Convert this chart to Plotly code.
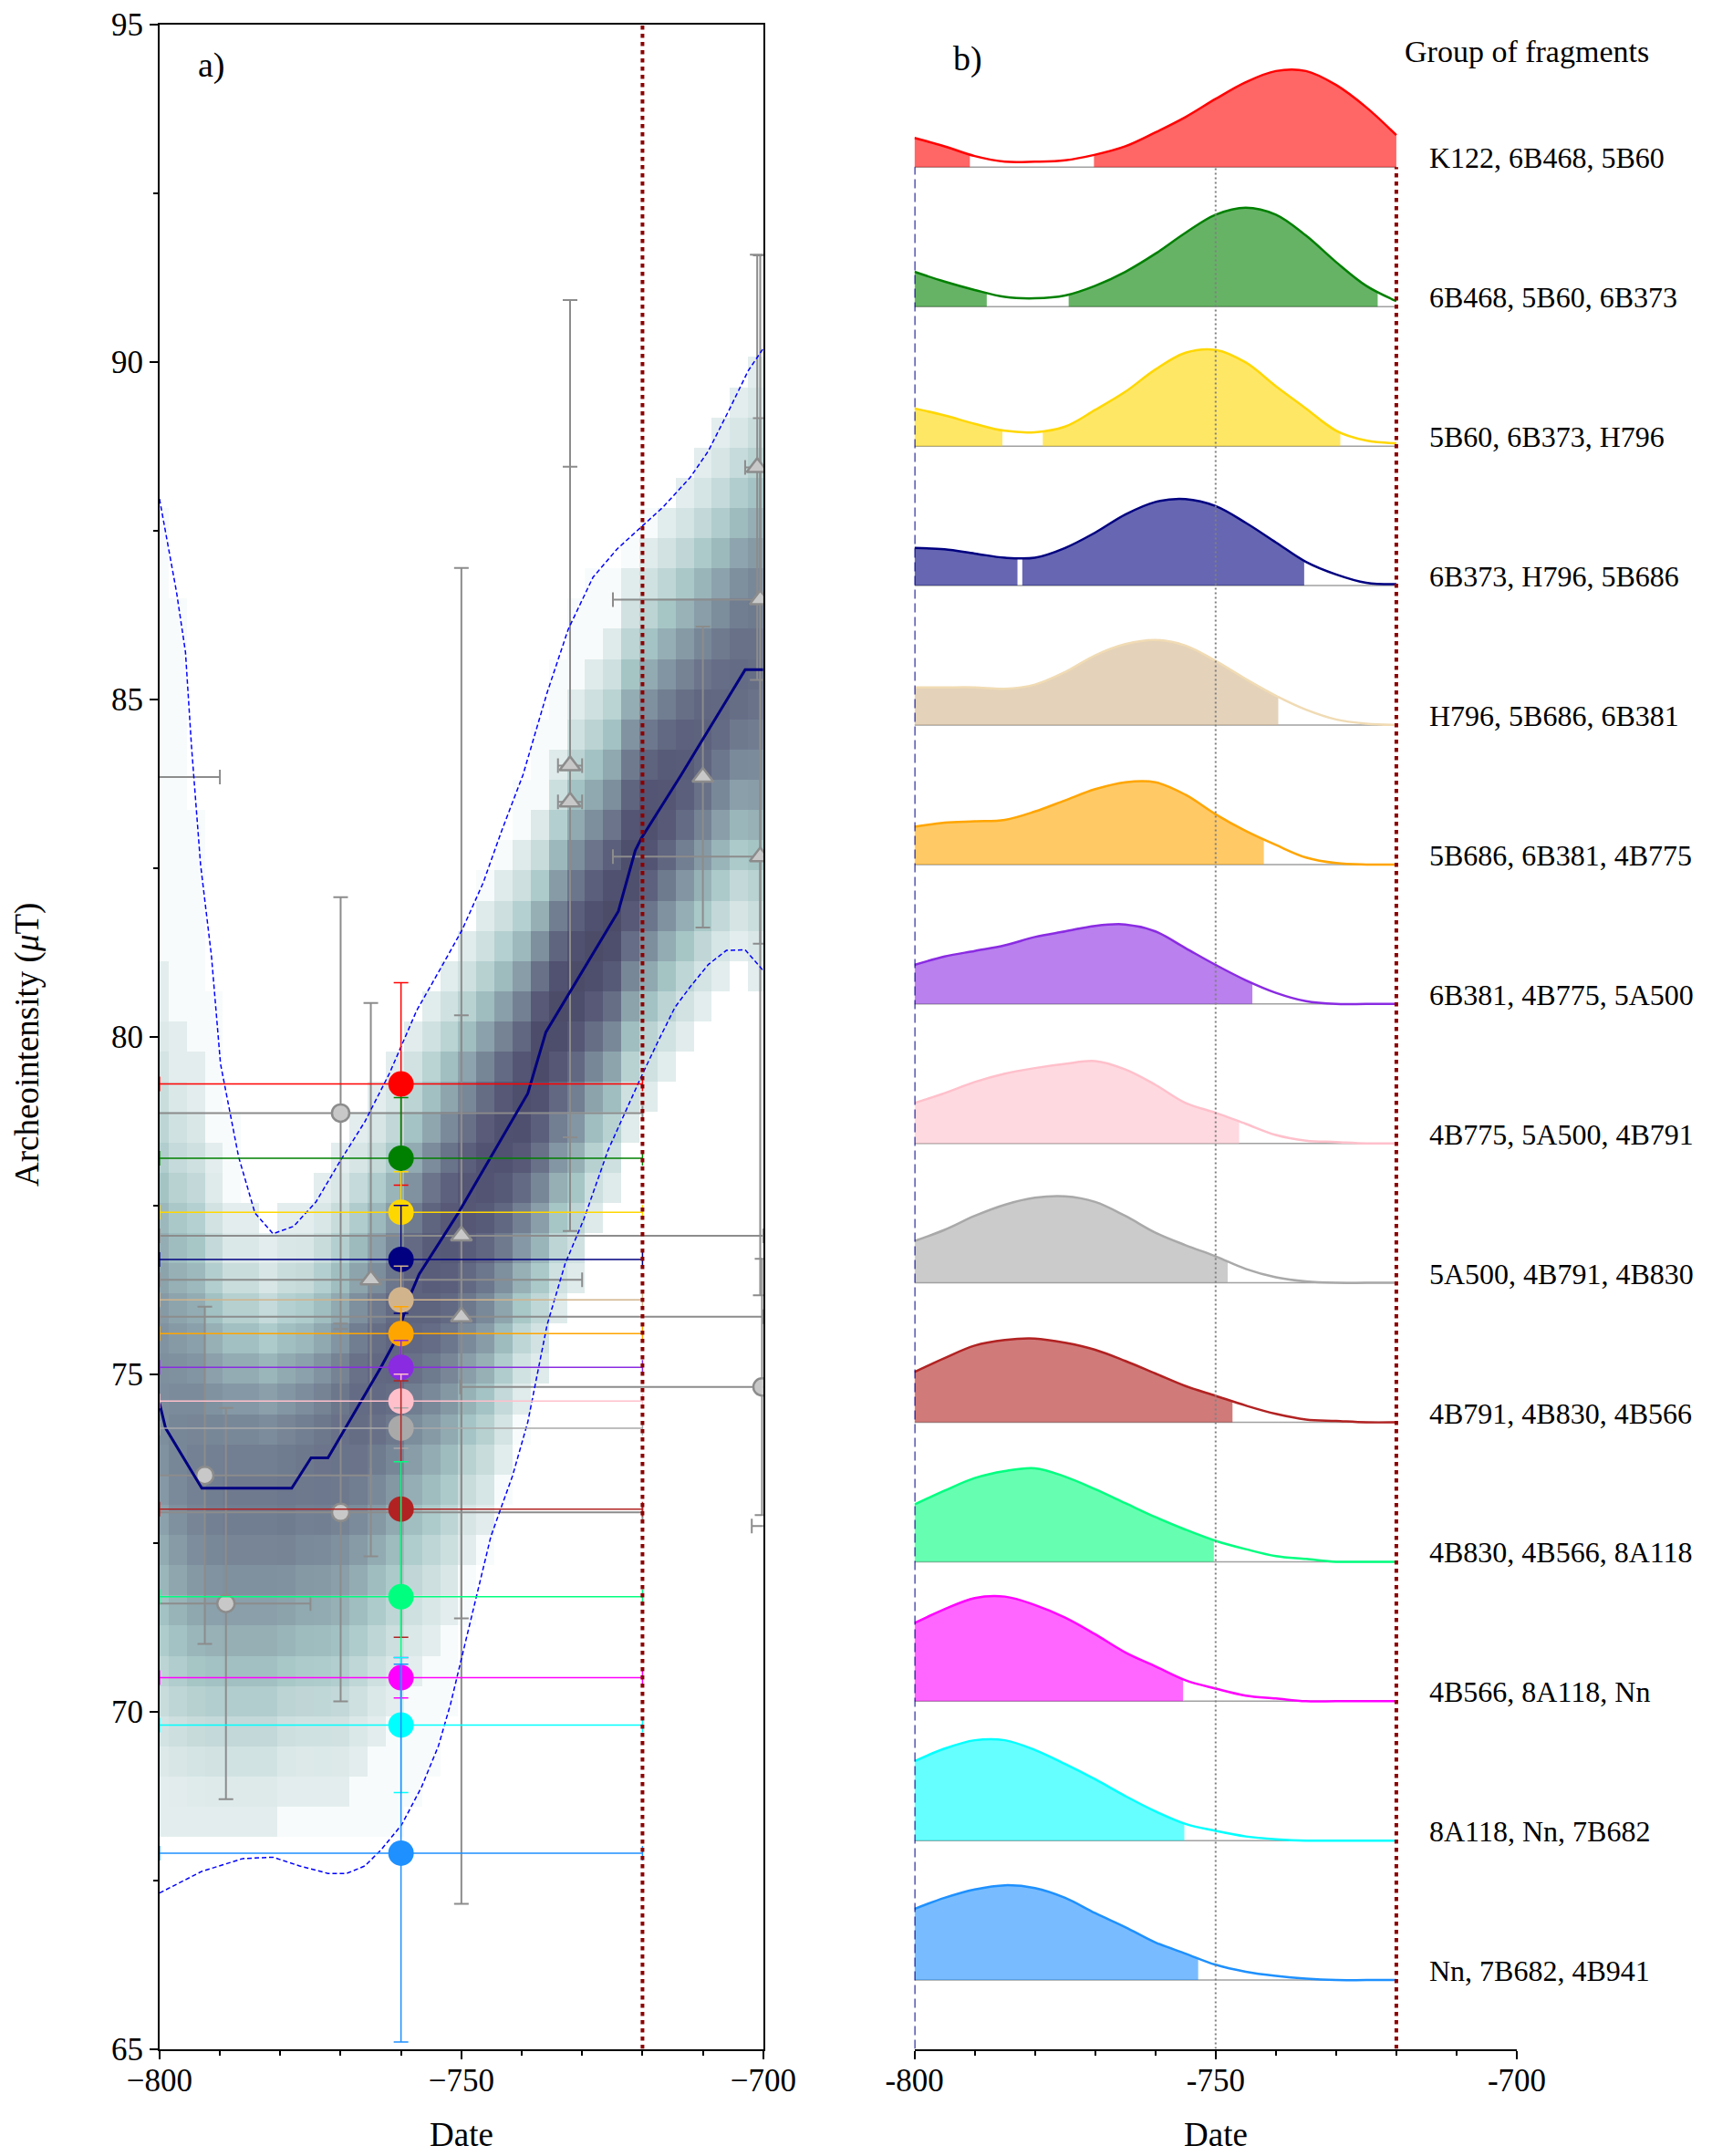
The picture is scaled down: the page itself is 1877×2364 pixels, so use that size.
import numpy as np
import plotly.graph_objects as go

FONT = "Liberation Serif"

# ---------------- Panel a) : archeointensity curve ----------------
# Posterior mean curve (date, µT)
mean_date = [-800, -799, -793, -778.1, -774.9, -772.1, -763.4, -760.6, -758.9, -757.0,
             -750.5, -745.1, -739.0, -736.0, -724.0, -721.2, -720.2, -713.6, -703.0, -700]
mean_int = [74.57, 74.20, 73.31, 73.31, 73.76, 73.76, 75.09, 75.55, 76.08, 76.48,
            77.39, 78.22, 79.16, 80.07, 81.86, 82.76, 82.94, 83.88, 85.44, 85.44]

# Upper / lower envelopes (dashed)
upper_date = [-800, -797.2, -795.7, -794.7, -793.2, -791.4, -789.9, -786.9, -784.2, -781.2,
              -777.8, -774.1, -770.0, -766.0, -761.9, -757.4, -753.4, -749.9, -746.4, -743.3,
              -739.8, -735.8, -732.3, -728.2, -724.2, -720.2, -716.6, -712.1, -709.1, -705.6,
              -702.5, -700.0]
upper_int = [87.97, 86.6, 85.7, 84.3, 82.55, 81.2, 79.6, 78.22, 77.39, 77.08,
             77.19, 77.55, 78.17, 78.74, 79.46, 80.39, 81.02, 81.58, 82.28, 83.06,
             83.88, 85.1, 86.04, 86.81, 87.23, 87.56, 87.85, 88.29, 88.68, 89.3,
             89.87, 90.2]
lower_date = [-800, -793.0, -786.2, -781.2, -776.8, -772.1, -769.0, -766.0, -763.3, -759.9,
              -756.6, -753.8, -751.8, -749.8, -747.1, -745.1, -741.5, -739.0, -737.8, -735.8,
              -732.8, -729.7, -725.7, -720.2, -717.6, -714.6, -712.1, -709.1, -706.1, -703.0,
              -700.0]
lower_int = [67.31, 67.63, 67.82, 67.84, 67.71, 67.60, 67.60, 67.71, 67.95, 68.32,
             68.88, 69.49, 70.11, 70.85, 71.89, 72.6, 73.5, 74.29, 74.83, 75.73,
             76.64, 77.3, 78.32, 79.41, 79.9, 80.44, 80.74, 81.07, 81.28, 81.29,
             80.98]

# Density of the curve ensemble: 3-year columns centred on -800, -797, ..., -701
hm_centers = list(range(-800, -700, 3))
hm_lo = [68.12, 68.12, 68.12, 68.12, 68.12, 68.12, 68.12, 68.57, 68.57, 68.57,
         68.57, 69.0, 69.46, 69.9, 70.35, 70.8, 71.25, 72.15, 72.6, 73.5,
         74.4, 74.83, 75.73, 76.18, 77.06, 77.54, 78.45, 78.87, 79.32, 79.77,
         80.23, 80.68, 81.1, 80.68]
hm_hi = [81.13, 80.25, 79.75, 78.43, 77.52, 77.52, 77.07, 77.52, 77.52, 77.96,
         78.41, 78.9, 79.3, 79.8, 80.25, 80.68, 81.13, 81.58, 82.03, 82.48,
         82.91, 83.37, 84.24, 85.13, 85.59, 86.04, 86.93, 87.38, 87.82, 88.26,
         88.72, 89.16, 89.61, 90.05]
hm_peak = [0.44, 0.46, 0.48, 0.49, 0.50, 0.50, 0.50, 0.51, 0.51, 0.52,
           0.53, 0.55, 0.56, 0.57, 0.58, 0.60, 0.61, 0.62, 0.63, 0.64,
           0.65, 0.66, 0.66, 0.66, 0.66, 0.66, 0.65, 0.64, 0.62, 0.60,
           0.58, 0.56, 0.55, 0.54]
int_edges = np.linspace(65, 95, 68)

# Reference data (grey): circles and triangles
circ_date = [-770.0, -770.0, -792.5, -789.0, -700.2, -815.0, -690.0]
circ_int = [78.87, 72.95, 73.50, 71.60, 74.81, 83.85, 72.75]
circ_date_err = [50, 50, 27.5, 14, 50, 25, 11.9]
circ_int_err = [3.2, 2.8, 2.5, 2.9, 1.9, 2.0, 2.0]

tri_date = [-765.0, -750.0, -750.0, -732.0, -732.0, -710.0, -701.0, -700.5, -700.5]
tri_int = [76.40, 77.05, 75.85, 84.02, 83.48, 83.85, 88.44, 86.48, 82.67]
tri_date_err = [35, 50, 50, 2, 2, 0, 2, 24.4, 24.4]
tri_int_err = [4.1, 9.9, 4.47, 6.9, 4.97, 2.23, 3.15, 5.1, 6.5]

# Groups of fragments
groups = ["K122, 6B468, 5B60", "6B468, 5B60, 6B373", "5B60, 6B373, H796",
          "6B373, H796, 5B686", "H796, 5B686, 6B381", "5B686, 6B381, 4B775",
          "6B381, 4B775, 5A500", "4B775, 5A500, 4B791", "5A500, 4B791, 4B830",
          "4B791, 4B830, 4B566", "4B830, 4B566, 8A118", "4B566, 8A118, Nn",
          "8A118, Nn, 7B682", "Nn, 7B682, 4B941"]
group_colors = ["#ff0000", "#008000", "#ffd700", "#000080", "#d2b48c", "#ffa500",
                "#8a2be2", "#ffc0cb", "#a9a9a9", "#b22222", "#00ff7f", "#ff00ff",
                "#00ffff", "#1e90ff"]
group_line_colors = ["#ff0000", "#008000", "#ffd700", "#000080", "#f0dbb4", "#ffa500",
                     "#8a2be2", "#ffc0cb", "#a9a9a9", "#b22222", "#00ff7f", "#ff00ff",
                     "#00ffff", "#1e90ff"]
group_date = -760
group_date_err = 40
group_int = [79.3, 78.2, 77.4, 76.7, 76.1, 75.6, 75.1, 74.6, 74.2, 73.0, 71.7, 70.5, 69.8, 67.9]
group_int_err = [1.5, 0.9, 0.6, 0.8, 0.5, 0.4, 0.4, 0.4, 0.3, 1.9, 2.0, 0.3, 1.0, 2.8]

# ---------------- Panel b) : dating densities ----------------
ridge_dates = list(range(-800, -719, 5))
ridge_density = [
    [21, 15, 8, 4, 4, 5, 9, 15, 25, 36, 49, 61, 69, 69, 59, 43, 23],
    [25, 18, 12, 7, 6, 8, 15, 25, 38, 53, 66, 71, 66, 51, 32, 15, 4],
    [27, 22, 16, 11, 10, 14, 26, 39, 55, 67, 69, 60, 43, 27, 11, 4, 2],
    [27, 26, 23, 20, 20, 27, 38, 51, 60, 62, 57, 45, 31, 17, 8, 2, 1],
    [27, 27, 27, 26, 29, 38, 50, 58, 61, 57, 46, 33, 21, 11, 4, 1, 0],
    [27, 30, 31, 32, 38, 46, 54, 59, 59, 50, 36, 24, 14, 5, 1, 0, 0],
    [28, 34, 38, 42, 48, 52, 56, 57, 52, 40, 28, 17, 8, 2, 0, 0, 0],
    [29, 36, 44, 50, 54, 57, 59, 53, 42, 29, 22, 14, 6, 2, 1, 0, 0],
    [30, 38, 48, 56, 61, 62, 58, 48, 36, 27, 19, 10, 4, 1, 0, 0, 0],
    [36, 46, 55, 59, 60, 57, 52, 44, 35, 26, 19, 12, 6, 2, 1, 0, 0],
    [41, 51, 60, 65, 67, 61, 52, 42, 32, 23, 15, 9, 4, 2, 0, 0, 0],
    [56, 66, 74, 75, 69, 60, 48, 35, 25, 15, 9, 4, 2, 0, 0, 0, 0],
    [57, 66, 72, 72, 65, 55, 44, 32, 21, 12, 7, 3, 1, 0, 0, 0, 0],
    [51, 59, 65, 68, 66, 59, 48, 38, 27, 19, 11, 6, 3, 1, 0, 0, 0],
]
# Highest-density intervals (filled parts of each density)
ridge_hpd = [
    [(-800, -790.8), (-770.2, -720)],
    [(-800, -788.0), (-774.4, -723.1)],
    [(-800, -785.4), (-778.7, -729.3)],
    [(-800, -782.9), (-782.1, -735.3)],
    [(-800, -739.6)],
    [(-800, -742.0)],
    [(-800, -743.9)],
    [(-800, -746.1)],
    [(-800, -748.0)],
    [(-800, -747.2)],
    [(-800, -750.3)],
    [(-800, -755.4)],
    [(-800, -755.2)],
    [(-800, -752.9)],
]
RIDGE_STEP = 100


def rgba(hex_color, a):
    h = hex_color.lstrip("#")
    r, g, b = int(h[0:2], 16), int(h[2:4], 16), int(h[4:6], 16)
    return f"rgba({r},{g},{b},{a})"


# bone_r colour map
bone_r = [[0.0, "rgb(255,255,255)"],
          [0.253968, "rgb(166,198,198)"],
          [0.634921, "rgb(81,81,113)"],
          [1.0, "rgb(0,0,0)"]]

fig = go.Figure()

# ---- heatmap ----
date_edges = np.arange(-801.5, -699.4, 3.0)
row_c = (int_edges[:-1] + int_edges[1:]) / 2
col_c = np.array(hm_centers, dtype=float)
mode = np.interp(col_c, mean_date, mean_int)
env_hi = np.interp(col_c, upper_date, upper_int)
env_lo = np.maximum(np.interp(col_c, lower_date, lower_int), 68.12)
z = np.full((len(row_c), len(col_c)), np.nan)
for j in range(len(col_c)):
    for i, yc in enumerate(row_c):
        if yc >= mode[j]:
            sd = (hm_hi[j] - mode[j]) / 2.1
        else:
            sd = (mode[j] - hm_lo[j]) / 2.1
        g = hm_peak[j] * np.exp(-0.5 * ((yc - mode[j]) / sd) ** 2)
        if hm_lo[j] <= yc <= hm_hi[j]:
            z[i, j] = max(g, 0.08)
        elif env_lo[j] <= yc <= env_hi[j]:
            z[i, j] = 0.02

fig.add_trace(go.Heatmap(x=date_edges, y=int_edges, z=z, colorscale=bone_r,
                         zmin=0, zmax=1, showscale=False, hoverinfo="skip",
                         xaxis="x", yaxis="y"))

# ---- grey reference data ----
GREY = "#8c8c8c"
fig.add_trace(go.Scatter(
    x=circ_date, y=circ_int, mode="markers",
    marker=dict(symbol="circle", size=19, color="#c8c8c8", line=dict(color=GREY, width=2.5)),
    error_x=dict(type="data", array=circ_date_err, color=GREY, thickness=2, width=8),
    error_y=dict(type="data", array=circ_int_err, color=GREY, thickness=2, width=8),
    xaxis="x", yaxis="y", cliponaxis=True))
fig.add_trace(go.Scatter(
    x=tri_date, y=tri_int, mode="markers",
    marker=dict(symbol="triangle-up", size=20, color="#c8c8c8", line=dict(color=GREY, width=2.5)),
    error_x=dict(type="data", array=tri_date_err, color=GREY, thickness=2, width=8),
    error_y=dict(type="data", array=tri_int_err, color=GREY, thickness=2, width=8),
    xaxis="x", yaxis="y", cliponaxis=True))

# ---- envelopes and mean curve ----
fig.add_trace(go.Scatter(x=upper_date, y=upper_int, mode="lines",
                         line=dict(color="#0000ff", width=1.5, dash="5px,3px"),
                         xaxis="x", yaxis="y"))
fig.add_trace(go.Scatter(x=lower_date, y=lower_int, mode="lines",
                         line=dict(color="#0000ff", width=1.5, dash="5px,3px"),
                         xaxis="x", yaxis="y"))
fig.add_trace(go.Scatter(x=mean_date, y=mean_int, mode="lines",
                         line=dict(color="#000080", width=3),
                         xaxis="x", yaxis="y"))

# ---- groups of fragments (coloured) ----
for col, val, err in zip(group_colors, group_int, group_int_err):
    fig.add_trace(go.Scatter(
        x=[group_date], y=[val], mode="markers",
        marker=dict(size=28, color=col),
        error_x=dict(type="data", array=[group_date_err], color=col, thickness=1.5, width=8),
        error_y=dict(type="data", array=[err], color=col, thickness=1.5, width=8),
        xaxis="x", yaxis="y", cliponaxis=True))

# end of the dated interval
fig.add_trace(go.Scatter(x=[-720, -720], y=[65, 95], mode="lines",
                         line=dict(color="#8b0000", width=4, dash="4.5px,4.5px"),
                         xaxis="x", yaxis="y"))

# ---- ridges ----
n = len(groups)
for k in range(n):
    off = (n - 1 - k) * RIDGE_STEP
    dens = np.array(ridge_density[k], dtype=float)
    fig.add_trace(go.Scatter(x=[-800, -720], y=[off, off], mode="lines",
                             line=dict(color="#a0a0a0", width=1.5),
                             xaxis="x2", yaxis="y2"))
    for a, b in ridge_hpd[k]:
        xs = [a] + [d for d in ridge_dates if a + 1.0 < d < b - 1.0] + [b]
        ys = np.interp(xs, ridge_dates, dens) + off
        fig.add_trace(go.Scatter(x=[a, b], y=[off, off], mode="lines",
                                 line=dict(width=0), xaxis="x2", yaxis="y2"))
        fig.add_trace(go.Scatter(x=xs, y=ys, mode="lines",
                                 line=dict(width=0, shape="spline"),
                                 fill="tonexty", fillcolor=rgba(group_colors[k], 0.6),
                                 xaxis="x2", yaxis="y2"))
    fig.add_trace(go.Scatter(x=ridge_dates, y=dens + off, mode="lines",
                             line=dict(color=group_line_colors[k], width=2.5, shape="spline"),
                             xaxis="x2", yaxis="y2"))

top_base = (n - 1) * RIDGE_STEP
fig.add_trace(go.Scatter(x=[-800, -800], y=[-49.3, top_base], mode="lines",
                         line=dict(color="#000080", width=2, dash="10px,5px"),
                         xaxis="x2", yaxis="y2"))
fig.add_trace(go.Scatter(x=[-750, -750], y=[-49.3, top_base], mode="lines",
                         line=dict(color="#808080", width=2, dash="2px,3px"),
                         xaxis="x2", yaxis="y2"))
fig.add_trace(go.Scatter(x=[-720, -720], y=[-49.3, top_base], mode="lines",
                         line=dict(color="#8b0000", width=4, dash="4.5px,4.5px"),
                         xaxis="x2", yaxis="y2"))

# ---- annotations ----
ann = []
for k, name in enumerate(groups):
    off = (n - 1 - k) * RIDGE_STEP
    ann.append(dict(x=-714.9, y=off + 6.5, xref="x2", yref="y2", text=name,
                    showarrow=False, xanchor="left", yanchor="middle",
                    font=dict(family=FONT, size=32, color="black")))
ann.append(dict(x=-719.0, y=1383, xref="x2", yref="y2", text="Group of fragments",
                showarrow=False, xanchor="left", yanchor="middle",
                font=dict(family=FONT, size=34, color="black")))
ann.append(dict(x=-791.2, y=1378, xref="x2", yref="y2", text="b)",
                showarrow=False, xanchor="center", yanchor="middle",
                font=dict(family=FONT, size=38, color="black")))
ann.append(dict(x=-791.3, y=94.4, xref="x", yref="y", text="a)",
                showarrow=False, xanchor="center", yanchor="middle",
                font=dict(family=FONT, size=38, color="black")))
ann.append(dict(x=505.9 / 1877, y=1 - 2340 / 2364, xref="paper", yref="paper", text="Date",
                showarrow=False, xanchor="center", yanchor="middle",
                font=dict(family=FONT, size=37, color="black")))
ann.append(dict(x=1332.8 / 1877, y=1 - 2340 / 2364, xref="paper", yref="paper", text="Date",
                showarrow=False, xanchor="center", yanchor="middle",
                font=dict(family=FONT, size=37, color="black")))
ann.append(dict(x=30 / 1877, y=1 - 1146 / 2364, xref="paper", yref="paper",
                text="Archeointensity (<i>μ</i>T)", textangle=-90,
                showarrow=False, xanchor="center", yanchor="middle",
                font=dict(family=FONT, size=37, color="black")))

tickfont = dict(family=FONT, size=35, color="black")
ydom = [1 - 2246.5 / 2364, 1 - 27.1 / 2364]
fig.update_layout(
    width=1877, height=2364, margin=dict(l=0, r=0, t=0, b=0, autoexpand=False),
    paper_bgcolor="white", plot_bgcolor="white", showlegend=False,
    annotations=ann,
    xaxis=dict(domain=[174.9 / 1877, 836.8 / 1877], range=[-800, -700], automargin=False,
               tickvals=[-800, -750, -700], ticks="outside", ticklen=9, tickwidth=2,
               tickcolor="black", showline=True, linecolor="black", linewidth=2,
               mirror=True, showgrid=False, zeroline=False, tickfont=tickfont,
               ticklabelstandoff=-7,
               minor=dict(dtick=10, tick0=-800, ticks="outside", ticklen=5,
                          tickwidth=1.5, tickcolor="black", showgrid=False)),
    yaxis=dict(domain=ydom, range=[65, 95], tickvals=[65, 70, 75, 80, 85, 90, 95],
               automargin=False,
               ticks="outside", ticklen=9, tickwidth=2, tickcolor="black",
               showline=True, linecolor="black", linewidth=2, mirror=True,
               showgrid=False, zeroline=False, tickfont=tickfont,
               minor=dict(dtick=2.5, tick0=65, ticks="outside", ticklen=5,
                          tickwidth=1.5, tickcolor="black", showgrid=False)),
    xaxis2=dict(domain=[1002.6 / 1877, 1663 / 1877], range=[-800, -700], anchor="y2",
                automargin=False,
                tickvals=[-800, -750, -700], ticktext=["-800", "-750", "-700"],
                ticks="outside", ticklen=9, tickwidth=2, tickcolor="black",
                showline=True, linecolor="black", linewidth=2, showgrid=False,
                zeroline=False, tickfont=tickfont, ticklabelstandoff=-7,
                minor=dict(dtick=10, tick0=-800, ticks="outside", ticklen=5,
                           tickwidth=1.5, tickcolor="black", showgrid=False)),
    yaxis2=dict(domain=ydom, range=[-49.3, 1402.2], anchor="x2", visible=False,
                automargin=False, showgrid=False, zeroline=False),
)

fig.write_html("out.html")
